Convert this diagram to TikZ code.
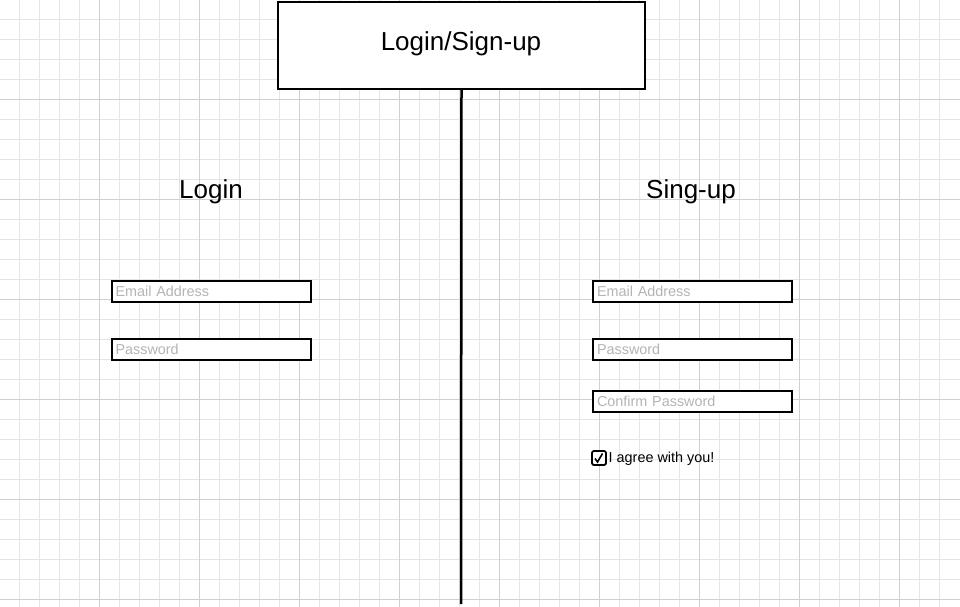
\documentclass[tikz,border=0pt]{standalone}
\usepackage{fontspec}
\setmainfont{Liberation Sans}
\usepackage{tikz}

\definecolor{gridminor}{HTML}{E4E4E4}
\definecolor{gridmajor}{HTML}{D0D0D0}
\definecolor{hint}{HTML}{B4B4B4}

\tikzset{
  field/.style={draw=black, fill=white, line width=2pt, rectangle, minimum height=21pt,
    text width=191pt, inner sep=4pt, align=left, anchor=north west,
    font=\fontsize{14.4}{16}\selectfont, text=hint},
  heading/.style={font=\fontsize{26}{30}\selectfont}
}

\begin{document}
\begin{tikzpicture}[x=1pt, y=-1pt]
    \useasboundingbox (0,0) rectangle (960,607);

    % Background grid
    \foreach \k in {1,...,47} {
        \draw[gridminor, line width=0.8pt] (20*\k-0.5, 0) -- (20*\k-0.5, 607);
    }
    \foreach \k in {1,...,30} {
        \draw[gridminor, line width=0.8pt] (0, 20*\k-0.5) -- (960, 20*\k-0.5);
    }
    \foreach \k in {1,...,9} {
        \draw[gridmajor, line width=0.8pt] (100*\k-0.5, 0) -- (100*\k-0.5, 607);
    }
    \foreach \k in {1,...,6} {
        \draw[gridmajor, line width=0.8pt] (0, 100*\k-0.5) -- (960, 100*\k-0.5);
    }

    % Top box
    \node[draw, line width=2pt, fill=white, minimum width=367pt, minimum height=87pt,
          heading, anchor=north west] (top) at (277, 1) {};
    \node[heading] (title) at (461, 44) {Login/Sign-up};

    % Dividing line
    \coordinate (bottom) at (461, 604);
    \draw[line width=2.5pt] (top.south) -- (bottom);

    % Login side
    \node[heading] (login) at (211, 192) {Login};
    \node[field] (lemail) at (110.5, 279.5) {Email Address};
    \node[field] (lpass) at (110.5, 337.5) {Password};

    % Sign-up side
    \node[heading] (signup) at (691, 192) {Sing-up};
    \node[field] (semail) at (592, 279.5) {Email Address};
    \node[field] (spass) at (592, 337.5) {Password};
    \node[field] (sconfirm) at (592, 389.5) {Confirm Password};

    % Checkbox
    \node[draw, line width=1.8pt, rounded corners=2pt, minimum size=14pt, inner sep=0pt,
          fill=white] (check) at (599, 458) {};
    \draw[line width=1.6pt] (check.center) ++(-4,0.5) -- ++(2.5,3.5) -- ++(5,-8.5);
    \node[anchor=west, inner sep=0pt, font=\fontsize{14.4}{16}\selectfont] (agree)
          at (608.5, 458.5) {I agree with you!};
\end{tikzpicture}
\end{document}
